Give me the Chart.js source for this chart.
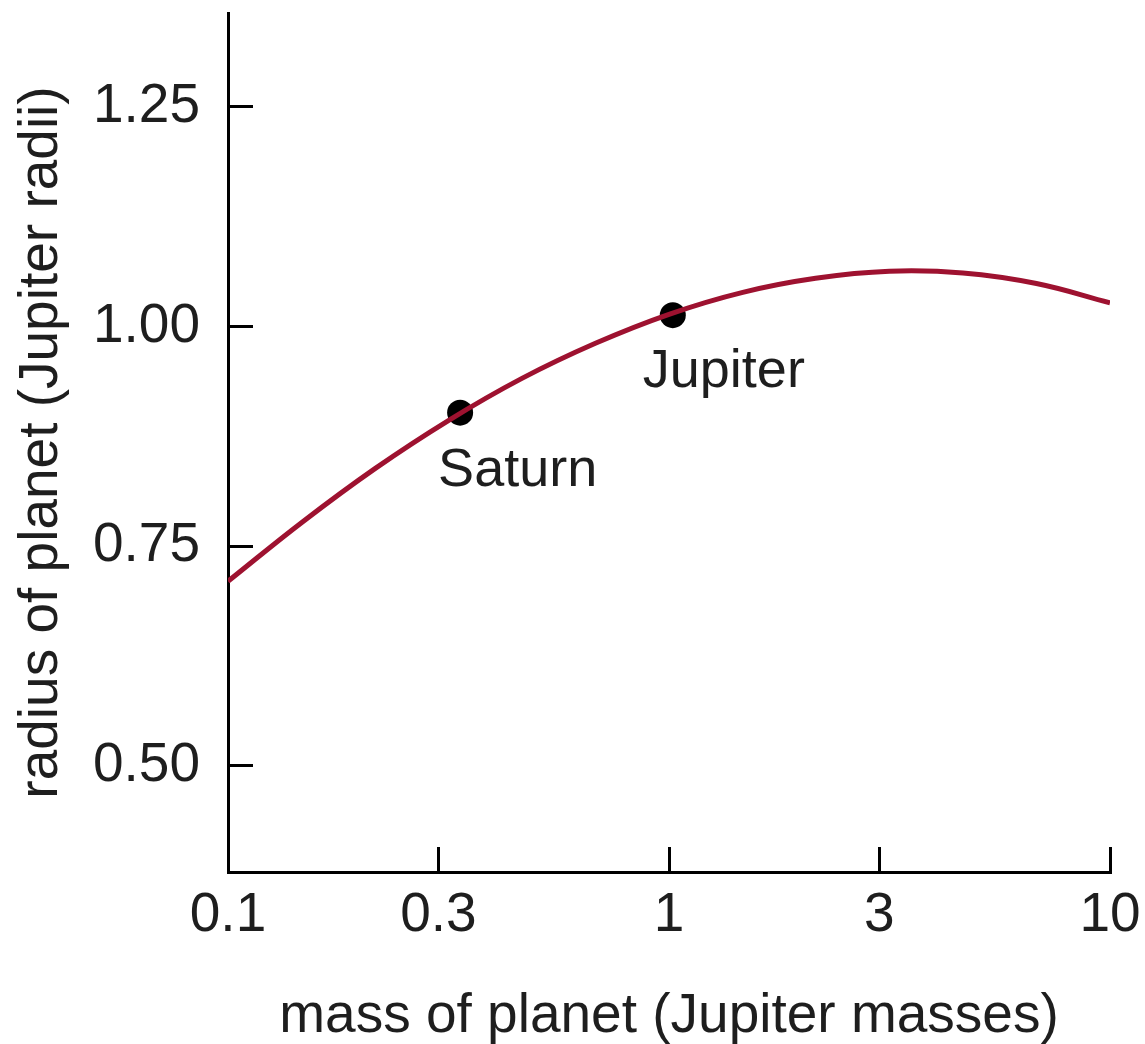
<!DOCTYPE html>
<html>
<head>
<meta charset="utf-8">
<script src="https://cdn.jsdelivr.net/npm/chart.js@4"></script>
<style>
  html, body { margin: 0; padding: 0; background: #fff; }
  #wrap { width: 1145px; height: 1044px; }
</style>
</head>
<body>
<div id="wrap"><canvas id="chart" width="1145" height="1044"></canvas></div>
<script>
// mass-radius curve for giant planets
const massValues   = [0.1, 0.147, 0.215, 0.316, 0.464, 0.681, 1, 1.47, 2.15, 3.16, 4.64, 6.81, 10];
const radiusValues = [0.710, 0.777, 0.838, 0.893, 0.941, 0.981, 1.014, 1.039, 1.055, 1.063, 1.061, 1.049, 1.027];

const planetNames  = ['Saturn', 'Jupiter'];
const planetMass   = [0.336, 1.02];
const planetRadius = [0.902, 1.013];

const xTicks = [0.1, 0.3, 1, 3, 10];
const yTicks = [0.50, 0.75, 1.00, 1.25];

const FONT = 'Liberation Sans, Arial, Helvetica, sans-serif';
const INK = '#1e1e1e';

const curve = massValues.map((m, i) => ({ x: m, y: radiusValues[i] }));
const planets = planetMass.map((m, i) => ({ x: m, y: planetRadius[i] }));

// no extra padding around the scales, the layout is set by hand
function noPad(s) {
  s.paddingTop = 0; s.paddingBottom = 0; s.paddingLeft = 0; s.paddingRight = 0;
}

// planet names under the dots
const labelPlugin = {
  id: 'planetLabels',
  afterDatasetsDraw(chart) {
    const ctx = chart.ctx;
    const xs = chart.scales.x, ys = chart.scales.y;
    const offs = [[-22, 73], [-30, 72]];
    ctx.save();
    ctx.font = '54px ' + FONT;
    ctx.fillStyle = INK;
    ctx.textAlign = 'left';
    ctx.textBaseline = 'alphabetic';
    planetNames.forEach((name, i) => {
      const px = xs.getPixelForValue(planetMass[i]);
      const py = ys.getPixelForValue(planetRadius[i]);
      ctx.fillText(name, px + offs[i][0], py + offs[i][1]);
    });
    ctx.restore();
  }
};

new Chart(document.getElementById('chart'), {
  type: 'scatter',
  data: {
    datasets: [
      {
        type: 'line',
        data: curve,
        borderColor: '#9e1230',
        borderWidth: 5,
        pointRadius: 0,
        fill: false,
        tension: 0.4
      },
      {
        type: 'scatter',
        data: planets,
        pointRadius: 13,
        pointBackgroundColor: '#000',
        pointBorderWidth: 0
      }
    ]
  },
  options: {
    responsive: false,
    animation: false,
    layout: { padding: { top: 10, right: 35, left: 0, bottom: 0 } },
    plugins: { legend: { display: false }, tooltip: { enabled: false } },
    scales: {
      x: {
        type: 'logarithmic',
        min: 0.1,
        max: 10,
        afterBuildTicks: s => { s.ticks = xTicks.map(v => ({ value: v })); },
        afterFit: s => { s.height = 172; noPad(s); },
        ticks: {
          color: INK,
          font: { family: FONT, size: 55 },
          padding: 36,
          maxRotation: 0,
          autoSkip: false,
          callback: v => String(v)
        },
        grid: { drawOnChartArea: false, drawTicks: true, tickLength: -25, color: '#000', lineWidth: 3 },
        border: { color: '#000', width: 3 },
        title: {
          display: true,
          text: 'mass of planet (Jupiter masses)',
          color: INK,
          font: { family: FONT, size: 55, lineHeight: 1 },
          padding: { top: 0, bottom: 0 }
        }
      },
      y: {
        min: 0.379,
        max: 1.357,
        afterBuildTicks: s => { s.ticks = yTicks.map(v => ({ value: v })); },
        afterFit: s => { s.width = 228; noPad(s); },
        ticks: {
          color: INK,
          font: { family: FONT, size: 55 },
          padding: 53,
          callback: v => v.toFixed(2)
        },
        grid: { drawOnChartArea: false, drawTicks: true, tickLength: -25, color: '#000', lineWidth: 3 },
        border: { color: '#000', width: 3 },
        title: {
          display: true,
          text: 'radius of planet (Jupiter radii)',
          color: INK,
          font: { family: FONT, size: 55, lineHeight: 1.2 },
          padding: { top: 9, bottom: 0 }
        }
      }
    }
  },
  plugins: [labelPlugin]
});
</script>
</body>
</html>
